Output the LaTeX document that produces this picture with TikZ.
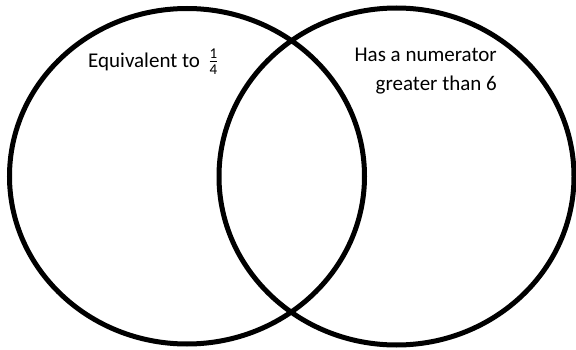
\documentclass[tikz,border=0pt]{standalone}
\usepackage{amsmath}
\usepackage{fontspec}
\setmainfont{Carlito}
\usetikzlibrary{shapes.geometric, positioning}

\begin{document}
\begin{tikzpicture}[
  x=1pt, y=1pt,
  set/.style={ellipse, draw=black, line width=5pt, inner sep=0pt},
  label/.style={font=\fontsize{21}{29}\selectfont, inner sep=0pt},
]
\useasboundingbox (0,0) rectangle (576,349);
\node[set, minimum width=355pt, minimum height=335.5pt] (setA) at (187,172.75) {};
\node[set, minimum width=355pt, minimum height=337pt] (setB) at (396.5,172.5) {};

\node[label, anchor=base west] (labA) at (88,282) {Equivalent to\, $\genfrac{}{}{0.8pt}{}{\text{\fontsize{15}{15}\selectfont 1}}{\text{\fontsize{15}{15}\selectfont 4}}$};
\node[label, align=right, anchor=north east] (labB) at (497,301) {Has a numerator\\greater than 6};
\end{tikzpicture}
\end{document}
